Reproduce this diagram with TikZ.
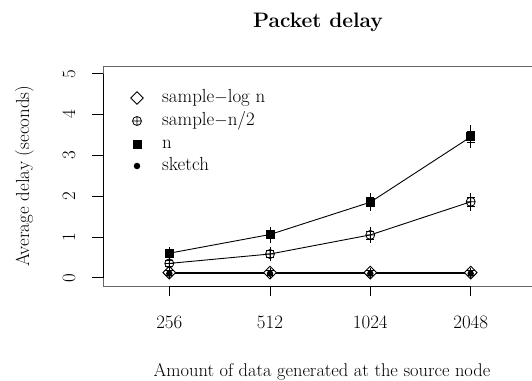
\documentclass[tikz,border=0pt]{standalone}
\usetikzlibrary{shapes.geometric}
\tikzset{
  frame/.style={black!60, line width=0.8bp},
  axisline/.style={black, line width=0.8bp},
  serie/.style={black, line width=0.9bp},
  ebar/.style={black, line width=0.8bp},
  dmd/.style={draw, diamond, minimum size=13bp, inner sep=0pt, line width=0.9bp, fill=white},
  sqr/.style={fill, rectangle, minimum size=9bp, inner sep=0pt},
  dotm/.style={fill, circle, minimum size=6.5bp, inner sep=0pt},
  ticklab/.style={font=\fontsize{19}{22}\selectfont},
  legtext/.style={font=\fontsize{19}{22}\selectfont, anchor=base west, inner sep=0pt},
  cplus/.pic={\draw[line width=0.8bp] (0,0) circle (4.5) (-4.5,0)--(4.5,0) (0,-4.5)--(0,4.5);}
}
\newcommand\errbar[3]{\draw[ebar] (#1,#2-#3)--(#1,#2+#3) (#1-4,#2-#3*0.5)--(#1+4,#2-#3*0.5) (#1-4,#2+#3*0.5)--(#1+4,#2+#3*0.5);}
\begin{document}
\begin{tikzpicture}[x=1bp,y=-1bp]
\useasboundingbox (0,0) rectangle (532,380);
% frame
\draw[frame] (103,66) rectangle (545,286);
% x axis
\draw[axisline] (169.3,286)--(470.7,286);
\foreach \x/\l in {169.3/256,270/512,370.3/1024,470.7/2048}{
  \draw[axisline] (\x,286)--(\x,296);
  \node[ticklab, anchor=base, inner sep=0pt] at (\x,328) {\l};
}
% y axis
\draw[axisline] (103,277.7)--(103,73.7);
\foreach \k in {0,...,5}{
  \draw[axisline] (92,277.7-40.8*\k)--(103,277.7-40.8*\k);
  \node[ticklab, rotate=90, anchor=base, inner sep=0pt] at (75,277.7-40.8*\k) {\k};
}
% labels
\node[font=\fontsize{21}{25}\selectfont\bfseries, anchor=base, inner sep=0pt] (title) at (318,27) {Packet delay};
\node[font=\fontsize{18.5}{22}\selectfont, anchor=base, inner sep=0pt] (xlab) at (322,376) {Amount of data generated at the source node};
\node[ticklab, rotate=90, anchor=base, inner sep=0pt] (ylab) at (29,176) {Average delay (seconds)};
% series coordinates
\coordinate (n1) at (169.3,253.2); \coordinate (n2) at (270,234.5); \coordinate (n3) at (370.3,202.2); \coordinate (n4) at (470.7,136.9);
\coordinate (h1) at (169.3,263.4); \coordinate (h2) at (270,254.0); \coordinate (h3) at (370.3,234.9); \coordinate (h4) at (470.7,201.8);
\coordinate (l1) at (169.3,272.6); \coordinate (l2) at (270,272.6); \coordinate (l3) at (370.3,272.6); \coordinate (l4) at (470.7,272.6);
\coordinate (s1) at (169.3,273.6); \coordinate (s2) at (270,273.6); \coordinate (s3) at (370.3,273.6); \coordinate (s4) at (470.7,273.6);
\draw[serie] (n1)--(n2)--(n3)--(n4);
\draw[serie] (h1)--(h2)--(h3)--(h4);
\draw[serie] (l1)--(l2)--(l3)--(l4);
\draw[serie] (s1)--(s2)--(s3)--(s4);
% sample-log n + sketch markers
\foreach \i in {1,...,4}{
  \node[dmd] (ld\i) at (l\i) {};
  \node[dotm] (sd\i) at (s\i) {};
}
\errbar{169.3}{272.6}{5}\errbar{270}{272.6}{5}\errbar{370.3}{272.6}{5}\errbar{470.7}{272.6}{5}
% sample-n/2 markers
\foreach \i in {1,...,4}{ \pic at (h\i) {cplus}; }
\errbar{169.3}{263.4}{6}\errbar{270}{254.0}{7}\errbar{370.3}{234.9}{8}\errbar{470.7}{201.8}{9}
% n markers
\foreach \i in {1,...,4}{ \node[sqr] (nq\i) at (n\i) {}; }
\errbar{169.3}{253.2}{6}\errbar{270}{234.5}{8}\errbar{370.3}{202.2}{9}\errbar{470.7}{136.9}{11.5}
% legend
\node[dmd, fill=none] (k1) at (137,98) {};
\pic at (137,121) {cplus};
\node[sqr] (k3) at (137,144) {};
\node[dotm] (k4) at (137,166) {};
\node[legtext] (t1) at (162,102) {sample$-$log n};
\node[legtext] (t2) at (162,125) {sample$-$n/2};
\node[legtext] (t3) at (162,148) {n};
\node[legtext] (t4) at (162,170) {sketch};
\end{tikzpicture}
\end{document}
